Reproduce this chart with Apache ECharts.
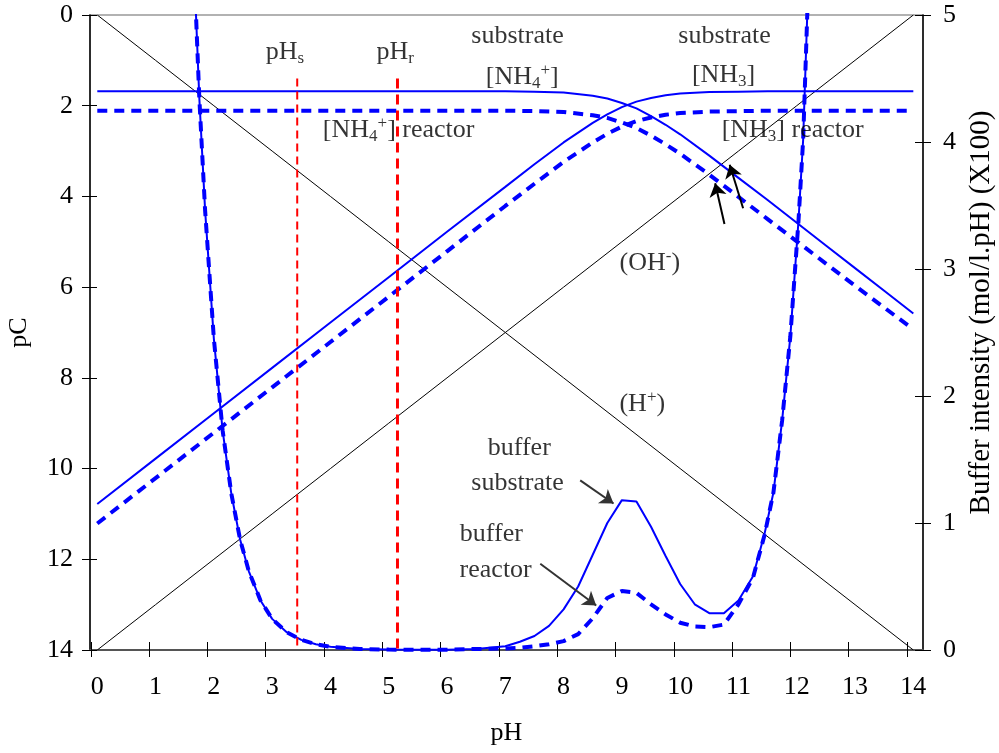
<!DOCTYPE html>
<html><head><meta charset="utf-8">
<script src="https://cdn.jsdelivr.net/npm/echarts@6/dist/echarts.min.js"></script>
<style>html,body{margin:0;padding:0;background:#fff}#c{width:999px;height:753px}</style>
</head><body><div id="c"></div>
<script>
const FONT = "'Liberation Serif','Times New Roman',Times,serif";

// tick labels
const xTickLabels = [0,1,2,3,4,5,6,7,8,9,10,11,12,13,14];
const leftTicks = [0,2,4,6,8,10,12,14];
const rightTicks = [0,1,2,3,4,5];

// H+ and OH- lines (pC vs pH)
const linePH = [0,1,2,3,4,5,6,7,8,9,10,11,12,13,14];
const hPC  = [0,1,2,3,4,5,6,7,8,9,10,11,12,13,14];
const ohPC = [14,13,12,11,10,9,8,7,6,5,4,3,2,1,0];

// ammonia species (pC vs pH)
const nhPH    = [0,1,2,3,4,5,6,7,7.5,8,8.5,8.75,9,9.25,9.5,9.75,10,10.5,11,11.5,12,12.5,13,13.5,14];
const nh4Sub  = [1.68,1.68,1.68,1.68,1.68,1.68,1.68,1.68,1.69,1.71,1.78,1.84,1.94,2.06,2.23,2.42,2.63,3.10,3.59,4.08,4.58,5.08,5.58,6.08,6.58];
const nh3Sub  = [10.78,9.78,8.78,7.78,6.78,5.78,4.78,3.79,3.29,2.81,2.38,2.19,2.03,1.91,1.83,1.77,1.73,1.70,1.69,1.68,1.68,1.68,1.68,1.68,1.68];
const nh4Reac = [2.11,2.11,2.11,2.11,2.11,2.11,2.11,2.11,2.12,2.14,2.21,2.27,2.37,2.49,2.66,2.85,3.06,3.52,4.01,4.50,4.99,5.48,5.97,6.45,6.93];
const nh3Reac = [11.21,10.21,9.21,8.21,7.21,6.21,5.21,4.21,3.72,3.24,2.81,2.62,2.46,2.34,2.26,2.20,2.16,2.13,2.12,2.11,2.11,2.11,2.11,2.11,2.11];

// buffer intensity (mol/l.pH x100) vs pH
const bufPH   = [1.65,1.75,1.85,2.0,2.15,2.3,2.45,2.6,2.8,3.0,3.25,3.5,3.75,4.0,4.5,5.0,5.5,6.0,6.5,7.0,7.25,7.5,7.75,8.0,8.25,8.5,8.75,9.0,9.25,9.5,9.75,10.0,10.25,10.5,10.75,11.0,11.25,11.45,11.6,11.75,11.89,11.95,12.03,12.11,12.18,12.25];
const bufSub  = [5.5,4.35,3.46,2.45,1.73,1.23,0.87,0.62,0.39,0.245,0.14,0.08,0.045,0.025,0.008,0.003,0.001,0.002,0.008,0.03,0.065,0.11,0.19,0.32,0.5,0.75,1.0,1.18,1.17,0.97,0.74,0.52,0.36,0.29,0.29,0.39,0.58,0.92,1.24,1.81,2.47,2.86,3.38,4.02,5.0,5.9];
const bufReac = [5.5,4.35,3.46,2.45,1.73,1.23,0.87,0.62,0.39,0.245,0.14,0.08,0.045,0.025,0.008,0.003,0.001,0.002,0.008,0.012,0.018,0.03,0.045,0.07,0.125,0.25,0.41,0.465,0.45,0.36,0.28,0.215,0.185,0.18,0.2,0.36,0.57,0.91,1.24,1.81,2.47,2.86,3.38,4.02,5.0,5.9];

// vertical markers
const pHsValue = 3.43, pHrValue = 5.15;
const markerPC = [1.4, 14];

// annotations (data coordinates: pH, pC)
const annotations = [
  {text:'pH{sub|s}', x:3.22, y:0.81},
  {text:'pH{sub|r}', x:5.11, y:0.81},
  {text:'substrate', x:7.21, y:0.47},
  {text:'[NH{sub|4}{sup|+}]', x:7.29, y:1.36},
  {text:'substrate', x:10.76, y:0.47},
  {text:'[NH{sub|3}]', x:10.745, y:1.32},
  {text:'[NH{sub|4}{sup|+}] reactor', x:5.17, y:2.53},
  {text:'[NH{sub|3}] reactor', x:11.93, y:2.53},
  {text:'(OH{sup|-})', x:9.48, y:5.47},
  {text:'(H{sup|+})', x:9.35, y:8.57},
  {text:'buffer', x:7.24, y:9.56},
  {text:'substrate', x:7.21, y:10.33},
  {text:'buffer', x:6.76, y:11.44},
  {text:'reactor', x:6.835, y:12.25}
];
const arrows = [
  {from:[8.285,10.26], to:[8.857,10.77], color:'#333333'},
  {from:[7.6,12.10], to:[8.56,13.02], color:'#333333'},
  {from:[10.76,4.61], to:[10.60,3.71], color:'#000000'},
  {from:[11.08,4.26], to:[10.85,3.30], color:'#000000'}
];

const TICK_SHIFT = -0.11;
const xTickPos = xTickLabels.map(v => v + TICK_SHIFT);
const XMIN = -0.125, XMAX = 14.166;
const pairs = (xs, ys) => xs.map((x, i) => [x, ys[i]]);
const BLUE = '#0000ff';
const DASH = [10, 7];

const chart = echarts.init(document.getElementById('c'), null, {renderer:'canvas'});
const tickFont = {fontFamily: FONT, fontSize: 26, color: '#000'};
const tickOnly = (inside, len, values) => ({
  axisLine:{show:false, onZero:false}, splitLine:{show:false}, axisLabel:{show:false},
  axisTick:{show:true, inside:inside, length:len, customValues:values, lineStyle:{color:'#000', width:1}}
});

const option = {
  animation: false,
  backgroundColor: '#fff',
  grid: {left: 90, right: 76, top: 15, bottom: 103, containLabel: false, outerBoundsMode: 'none',
         show: true, borderColor: '#999', borderWidth: 1.5, backgroundColor: 'transparent'},
  xAxis: [
    {type:'value', position:'bottom', min:XMIN, max:XMAX,
     axisLine:{show:true, onZero:false, lineStyle:{color:'#555', width:2}},
     axisTick:{show:false}, splitLine:{show:false},
     axisLabel:Object.assign({show:true, margin:24, customValues:xTickLabels}, tickFont),
     name:'pH', nameLocation:'middle', nameGap:70,
     nameTextStyle:{fontFamily:FONT, fontSize:26, color:'#000'}},
    Object.assign({type:'value', position:'bottom', min:XMIN, max:XMAX}, tickOnly(false, 7, xTickPos)),
    Object.assign({type:'value', position:'bottom', min:XMIN, max:XMAX}, tickOnly(true, 8, xTickPos))
  ],
  yAxis: [
    {type:'value', position:'left', inverse:true, min:0, max:14, interval:2,
     axisLine:{show:true, onZero:false, lineStyle:{color:'#000', width:1.5}},
     axisTick:{show:true, inside:false, length:8, customValues:leftTicks, lineStyle:{color:'#000', width:1}},
     splitLine:{show:false},
     axisLabel:Object.assign({margin:17, customValues:leftTicks}, tickFont),
     name:'pC', nameLocation:'middle', nameGap:58,
     nameTextStyle:{fontFamily:FONT, fontSize:26, color:'#000'}},
    {type:'value', position:'right', min:0, max:5, interval:1,
     axisLine:{show:true, onZero:false, lineStyle:{color:'#000', width:1.5}},
     axisTick:{show:true, inside:false, length:8, customValues:rightTicks, lineStyle:{color:'#000', width:1}},
     splitLine:{show:false},
     axisLabel:Object.assign({margin:20, customValues:rightTicks}, tickFont),
     name:'Buffer intensity (mol/l.pH) (X100)', nameLocation:'middle', nameGap:42,
     nameTextStyle:{fontFamily:FONT, fontSize:29, color:'#000', padding:[0,0,0,40]}},
    Object.assign({type:'value', position:'left', inverse:true, min:0, max:14, interval:2}, tickOnly(true, 7, leftTicks)),
    Object.assign({type:'value', position:'right', min:0, max:5, interval:1}, tickOnly(true, 8, rightTicks))
  ],
  series: [
    {name:'H+', type:'line', data:pairs(linePH, hPC), showSymbol:false, symbol:'none',
     lineStyle:{color:'#000', width:1}, z:2},
    {name:'OH-', type:'line', data:pairs(linePH, ohPC), showSymbol:false, symbol:'none',
     lineStyle:{color:'#000', width:1}, z:2},
    {name:'NH4 substrate', type:'line', data:pairs(nhPH, nh4Sub), showSymbol:false, symbol:'none',
     lineStyle:{color:BLUE, width:2}, z:3},
    {name:'NH3 substrate', type:'line', data:pairs(nhPH, nh3Sub), showSymbol:false, symbol:'none',
     lineStyle:{color:BLUE, width:2}, z:3},
    {name:'buffer substrate', type:'line', yAxisIndex:1, data:pairs(bufPH, bufSub), showSymbol:false, symbol:'none',
     lineStyle:{color:BLUE, width:2}, z:3},
    {name:'NH4 reactor', type:'line', data:pairs(nhPH, nh4Reac), showSymbol:false, symbol:'none',
     lineStyle:{color:BLUE, width:4, type:DASH}, z:4},
    {name:'NH3 reactor', type:'line', data:pairs(nhPH, nh3Reac), showSymbol:false, symbol:'none',
     lineStyle:{color:BLUE, width:4, type:DASH}, z:4},
    {name:'buffer reactor', type:'line', yAxisIndex:1, data:pairs(bufPH, bufReac), showSymbol:false, symbol:'none',
     lineStyle:{color:BLUE, width:4, type:DASH}, z:4},
    {name:'pHs', type:'line', data:markerPC.map(v => [pHsValue, v]), showSymbol:false, symbol:'none',
     lineStyle:{color:'#ff0000', width:2, type:[8,5]}, z:5},
    {name:'pHr', type:'line', data:markerPC.map(v => [pHrValue, v]), showSymbol:false, symbol:'none',
     lineStyle:{color:'#ff0000', width:3, type:[10,6]}, z:5},
    {name:'arrows', type:'line', data:[], showSymbol:false, symbol:'none', z:6,
     itemStyle:{color:'#000'}, lineStyle:{color:'#000'},
     markLine:{silent:true, animation:false, symbol:['none','arrow'], symbolSize:13, precision:4,
       label:{show:false}, emphasis:{disabled:true},
       lineStyle:{type:'solid', width:2},
       data: arrows.map(a => [
         {coord:a.from, lineStyle:{color:a.color, width:2, type:'solid'}, itemStyle:{color:a.color}},
         {coord:a.to, itemStyle:{color:a.color}}
       ])}
    },
    {name:'annotations', type:'scatter', symbol:'circle', symbolSize:1,
     itemStyle:{color:'rgba(0,0,0,0)'}, z:6, silent:true,
     label:{show:true, position:'inside', fontFamily:FONT, fontSize:26, lineHeight:30, color:'#000',
       rich:{
         sub:{fontFamily:FONT, fontSize:17, lineHeight:20, verticalAlign:'bottom', color:'#000'},
         sup:{fontFamily:FONT, fontSize:17, lineHeight:14, verticalAlign:'top', color:'#000'}
       }},
     data: annotations.map(a => ({value:[a.x, a.y], label:{formatter:a.text}}))
    }
  ]
};
chart.setOption(option);
</script>
</body></html>
